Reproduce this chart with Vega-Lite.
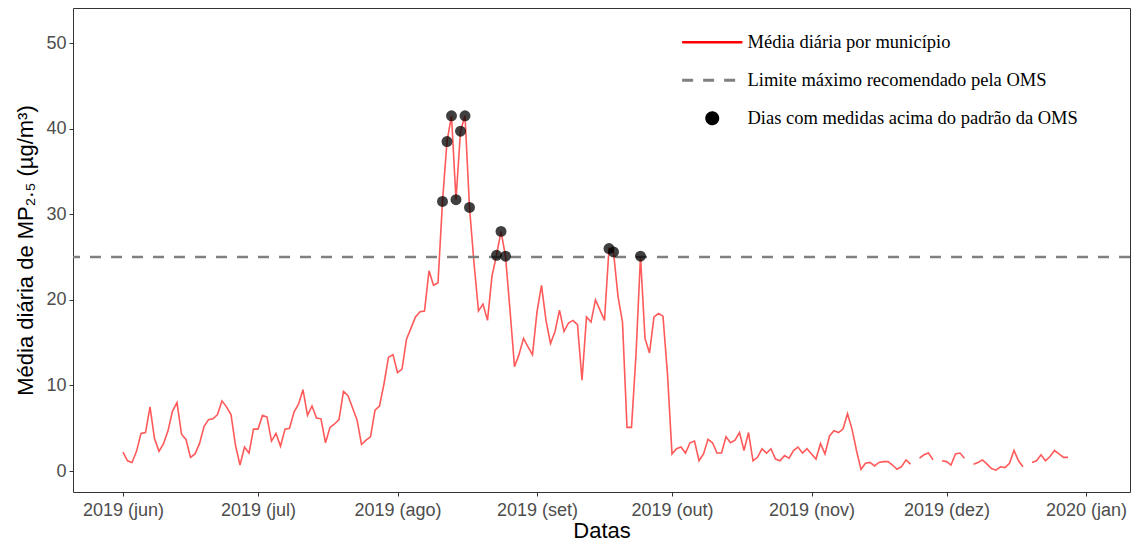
{
  "$schema": "https://vega.github.io/schema/vega-lite/v6.json",
  "width": 1057,
  "height": 484,
  "autosize": {"type": "none"},
  "padding": {"left": 73, "top": 8, "right": 6, "bottom": 51},
  "background": "white",
  "config": {
    "view": {"stroke": "#333333", "strokeWidth": 1},
    "axis": {
      "grid": false,
      "domain": false,
      "labelFont": "Liberation Sans",
      "labelFontSize": 18,
      "labelColor": "#4d4d4d",
      "tickColor": "#333333",
      "tickSize": 4,
      "titleFont": "Liberation Sans",
      "titleFontSize": 22,
      "titleFontWeight": "normal",
      "titleColor": "black"
    },
    "legend": {
      "labelFont": "Liberation Serif",
      "labelFontSize": 18.5,
      "labelColor": "black",
      "labelLimit": 500
    }
  },
  "data": {
    "values": [
      {"data": "2019-06-01", "valor": 2.2}, {"data": "2019-06-02", "valor": 1.2}, {"data": "2019-06-03", "valor": 1.0},
      {"data": "2019-06-04", "valor": 2.3}, {"data": "2019-06-05", "valor": 4.4}, {"data": "2019-06-06", "valor": 4.5},
      {"data": "2019-06-07", "valor": 7.5}, {"data": "2019-06-08", "valor": 3.8}, {"data": "2019-06-09", "valor": 2.3},
      {"data": "2019-06-10", "valor": 3.2}, {"data": "2019-06-11", "valor": 4.7}, {"data": "2019-06-12", "valor": 7.0},
      {"data": "2019-06-13", "valor": 8.0}, {"data": "2019-06-14", "valor": 4.3}, {"data": "2019-06-15", "valor": 3.7},
      {"data": "2019-06-16", "valor": 1.6}, {"data": "2019-06-17", "valor": 2.0}, {"data": "2019-06-18", "valor": 3.2},
      {"data": "2019-06-19", "valor": 5.2}, {"data": "2019-06-20", "valor": 6.0}, {"data": "2019-06-21", "valor": 6.1},
      {"data": "2019-06-22", "valor": 6.6}, {"data": "2019-06-23", "valor": 8.2}, {"data": "2019-06-24", "valor": 7.5},
      {"data": "2019-06-25", "valor": 6.6}, {"data": "2019-06-26", "valor": 3.0}, {"data": "2019-06-27", "valor": 0.7},
      {"data": "2019-06-28", "valor": 2.8}, {"data": "2019-06-29", "valor": 2.1}, {"data": "2019-06-30", "valor": 4.9},
      {"data": "2019-07-01", "valor": 4.9}, {"data": "2019-07-02", "valor": 6.5}, {"data": "2019-07-03", "valor": 6.3},
      {"data": "2019-07-04", "valor": 3.5}, {"data": "2019-07-05", "valor": 4.4}, {"data": "2019-07-06", "valor": 2.9},
      {"data": "2019-07-07", "valor": 4.9}, {"data": "2019-07-08", "valor": 5.0}, {"data": "2019-07-09", "valor": 6.9},
      {"data": "2019-07-10", "valor": 7.8}, {"data": "2019-07-11", "valor": 9.5}, {"data": "2019-07-12", "valor": 6.5},
      {"data": "2019-07-13", "valor": 7.6}, {"data": "2019-07-14", "valor": 6.2}, {"data": "2019-07-15", "valor": 6.1},
      {"data": "2019-07-16", "valor": 3.3}, {"data": "2019-07-17", "valor": 5.1}, {"data": "2019-07-18", "valor": 5.5},
      {"data": "2019-07-19", "valor": 6.0}, {"data": "2019-07-20", "valor": 9.3}, {"data": "2019-07-21", "valor": 8.8},
      {"data": "2019-07-22", "valor": 7.4}, {"data": "2019-07-23", "valor": 6.0}, {"data": "2019-07-24", "valor": 3.1},
      {"data": "2019-07-25", "valor": 3.6}, {"data": "2019-07-26", "valor": 4.0}, {"data": "2019-07-27", "valor": 7.1},
      {"data": "2019-07-28", "valor": 7.6}, {"data": "2019-07-29", "valor": 10.2}, {"data": "2019-07-30", "valor": 13.3},
      {"data": "2019-07-31", "valor": 13.6},
      {"data": "2019-08-01", "valor": 11.5}, {"data": "2019-08-02", "valor": 11.9}, {"data": "2019-08-03", "valor": 15.4},
      {"data": "2019-08-04", "valor": 16.7}, {"data": "2019-08-05", "valor": 18.0}, {"data": "2019-08-06", "valor": 18.6},
      {"data": "2019-08-07", "valor": 18.7}, {"data": "2019-08-08", "valor": 23.4}, {"data": "2019-08-09", "valor": 21.7},
      {"data": "2019-08-10", "valor": 22.0}, {"data": "2019-08-11", "valor": 31.5}, {"data": "2019-08-12", "valor": 38.5},
      {"data": "2019-08-13", "valor": 41.5}, {"data": "2019-08-14", "valor": 31.7}, {"data": "2019-08-15", "valor": 39.7},
      {"data": "2019-08-16", "valor": 41.5}, {"data": "2019-08-17", "valor": 30.8}, {"data": "2019-08-18", "valor": 24.3},
      {"data": "2019-08-19", "valor": 18.7}, {"data": "2019-08-20", "valor": 19.5}, {"data": "2019-08-21", "valor": 17.6},
      {"data": "2019-08-22", "valor": 22.8}, {"data": "2019-08-23", "valor": 25.2}, {"data": "2019-08-24", "valor": 28.0},
      {"data": "2019-08-25", "valor": 25.1}, {"data": "2019-08-26", "valor": 18.8}, {"data": "2019-08-27", "valor": 12.2},
      {"data": "2019-08-28", "valor": 13.6}, {"data": "2019-08-29", "valor": 15.5}, {"data": "2019-08-30", "valor": 14.5},
      {"data": "2019-08-31", "valor": 13.6},
      {"data": "2019-09-01", "valor": 18.6}, {"data": "2019-09-02", "valor": 21.7}, {"data": "2019-09-03", "valor": 17.6},
      {"data": "2019-09-04", "valor": 14.9}, {"data": "2019-09-05", "valor": 16.3}, {"data": "2019-09-06", "valor": 18.8},
      {"data": "2019-09-07", "valor": 16.3}, {"data": "2019-09-08", "valor": 17.3}, {"data": "2019-09-09", "valor": 17.6},
      {"data": "2019-09-10", "valor": 17.1}, {"data": "2019-09-11", "valor": 10.6}, {"data": "2019-09-12", "valor": 18.0},
      {"data": "2019-09-13", "valor": 17.4}, {"data": "2019-09-14", "valor": 20.0}, {"data": "2019-09-15", "valor": 18.8},
      {"data": "2019-09-16", "valor": 17.6}, {"data": "2019-09-17", "valor": 26.0}, {"data": "2019-09-18", "valor": 25.6},
      {"data": "2019-09-19", "valor": 20.4}, {"data": "2019-09-20", "valor": 17.4}, {"data": "2019-09-21", "valor": 5.1},
      {"data": "2019-09-22", "valor": 5.1}, {"data": "2019-09-23", "valor": 13.6}, {"data": "2019-09-24", "valor": 25.1},
      {"data": "2019-09-25", "valor": 15.5}, {"data": "2019-09-26", "valor": 13.8}, {"data": "2019-09-27", "valor": 18.0},
      {"data": "2019-09-28", "valor": 18.4}, {"data": "2019-09-29", "valor": 18.1}, {"data": "2019-09-30", "valor": 11.3},
      {"data": "2019-10-01", "valor": 2.0}, {"data": "2019-10-02", "valor": 2.6}, {"data": "2019-10-03", "valor": 2.8},
      {"data": "2019-10-04", "valor": 2.1}, {"data": "2019-10-05", "valor": 3.3}, {"data": "2019-10-06", "valor": 3.5},
      {"data": "2019-10-07", "valor": 1.2}, {"data": "2019-10-08", "valor": 2.0}, {"data": "2019-10-09", "valor": 3.7},
      {"data": "2019-10-10", "valor": 3.3}, {"data": "2019-10-11", "valor": 2.1}, {"data": "2019-10-12", "valor": 2.1},
      {"data": "2019-10-13", "valor": 4.0}, {"data": "2019-10-14", "valor": 3.3}, {"data": "2019-10-15", "valor": 3.6},
      {"data": "2019-10-16", "valor": 4.5}, {"data": "2019-10-17", "valor": 2.4}, {"data": "2019-10-18", "valor": 4.5},
      {"data": "2019-10-19", "valor": 1.2}, {"data": "2019-10-20", "valor": 1.6}, {"data": "2019-10-21", "valor": 2.6},
      {"data": "2019-10-22", "valor": 2.1}, {"data": "2019-10-23", "valor": 2.6}, {"data": "2019-10-24", "valor": 1.4},
      {"data": "2019-10-25", "valor": 1.2}, {"data": "2019-10-26", "valor": 1.8}, {"data": "2019-10-27", "valor": 1.5},
      {"data": "2019-10-28", "valor": 2.4}, {"data": "2019-10-29", "valor": 2.8}, {"data": "2019-10-30", "valor": 2.1},
      {"data": "2019-10-31", "valor": 2.6},
      {"data": "2019-11-01", "valor": 2.0}, {"data": "2019-11-02", "valor": 1.4}, {"data": "2019-11-03", "valor": 3.2},
      {"data": "2019-11-04", "valor": 2.0}, {"data": "2019-11-05", "valor": 4.1}, {"data": "2019-11-06", "valor": 4.7},
      {"data": "2019-11-07", "valor": 4.5}, {"data": "2019-11-08", "valor": 4.9}, {"data": "2019-11-09", "valor": 6.7},
      {"data": "2019-11-10", "valor": 4.9}, {"data": "2019-11-11", "valor": 2.4}, {"data": "2019-11-12", "valor": 0.2},
      {"data": "2019-11-13", "valor": 0.9}, {"data": "2019-11-14", "valor": 1.0}, {"data": "2019-11-15", "valor": 0.6},
      {"data": "2019-11-16", "valor": 1.0}, {"data": "2019-11-17", "valor": 1.1}, {"data": "2019-11-18", "valor": 1.1},
      {"data": "2019-11-19", "valor": 0.7}, {"data": "2019-11-20", "valor": 0.2}, {"data": "2019-11-21", "valor": 0.5},
      {"data": "2019-11-22", "valor": 1.3}, {"data": "2019-11-23", "valor": 0.8}, {"data": "2019-11-24", "valor": null},
      {"data": "2019-11-25", "valor": 1.5}, {"data": "2019-11-26", "valor": 1.9}, {"data": "2019-11-27", "valor": 2.1},
      {"data": "2019-11-28", "valor": 1.3}, {"data": "2019-11-29", "valor": null}, {"data": "2019-11-30", "valor": 1.2},
      {"data": "2019-12-01", "valor": 1.1}, {"data": "2019-12-02", "valor": 0.7}, {"data": "2019-12-03", "valor": 2.0},
      {"data": "2019-12-04", "valor": 2.1}, {"data": "2019-12-05", "valor": 1.5}, {"data": "2019-12-06", "valor": null},
      {"data": "2019-12-07", "valor": 0.8}, {"data": "2019-12-08", "valor": 1.0}, {"data": "2019-12-09", "valor": 1.3},
      {"data": "2019-12-10", "valor": 0.8}, {"data": "2019-12-11", "valor": 0.3}, {"data": "2019-12-12", "valor": 0.1},
      {"data": "2019-12-13", "valor": 0.5}, {"data": "2019-12-14", "valor": 0.4}, {"data": "2019-12-15", "valor": 0.9},
      {"data": "2019-12-16", "valor": 2.4}, {"data": "2019-12-17", "valor": 1.2}, {"data": "2019-12-18", "valor": 0.5},
      {"data": "2019-12-19", "valor": null}, {"data": "2019-12-20", "valor": 1.0}, {"data": "2019-12-21", "valor": 1.2},
      {"data": "2019-12-22", "valor": 1.9}, {"data": "2019-12-23", "valor": 1.2}, {"data": "2019-12-24", "valor": 1.7},
      {"data": "2019-12-25", "valor": 2.4}, {"data": "2019-12-26", "valor": 2.0}, {"data": "2019-12-27", "valor": 1.6},
      {"data": "2019-12-28", "valor": 1.6}
    ]
  },
  "encoding": {
    "x": {
      "field": "data",
      "type": "temporal",
      "title": "Datas",
      "scale": {
        "type": "utc",
        "domain": [
          {"year": 2019, "month": 5, "date": 20, "hours": 21, "minutes": 20, "utc": true},
          {"year": 2020, "month": 1, "date": 10, "hours": 18, "minutes": 40, "utc": true}
        ]
      },
      "axis": {
        "values": [
          {"year": 2019, "month": 6, "date": 1, "utc": true},
          {"year": 2019, "month": 7, "date": 1, "utc": true},
          {"year": 2019, "month": 8, "date": 1, "utc": true},
          {"year": 2019, "month": 9, "date": 1, "utc": true},
          {"year": 2019, "month": 10, "date": 1, "utc": true},
          {"year": 2019, "month": 11, "date": 1, "utc": true},
          {"year": 2019, "month": 12, "date": 1, "utc": true},
          {"year": 2020, "month": 1, "date": 1, "utc": true}
        ],
        "labelExpr": "utcyear(datum.value) + ' (' + ['jan','fev','mar','abr','mai','jun','jul','ago','set','out','nov','dez'][utcmonth(datum.value)] + ')'",
        "labelPadding": 5,
        "titlePadding": 1
      }
    },
    "y": {
      "field": "valor",
      "type": "quantitative",
      "title": "Média diária de  MP₂.₅ (µg/m³)",
      "scale": {"domain": [-2.45, 54.1], "nice": false, "zero": false},
      "axis": {"values": [0, 10, 20, 30, 40, 50], "labelPadding": 3, "titlePadding": 8}
    },
    "color": {
      "type": "nominal",
      "scale": {
        "domain": [
          "Média diária por município",
          "Limite máximo recomendado pela OMS",
          "Dias com medidas acima do padrão da OMS"
        ],
        "range": ["#ff0000", "#808080", "#000000"]
      },
      "legend": {
        "title": null,
        "orient": "none",
        "legendX": 630,
        "legendY": 25,
        "gridAlign": "all",
        "rowPadding": 14,
        "labelOffset": 26,
        "symbolSize": 120,
        "encode": {
          "symbols": {
            "update": {
              "shape": {"signal": "datum.value === 'Dias com medidas acima do padrão da OMS' ? 'circle' : 'M-5.5,0H5.5'"},
              "size": {"value": 120},
              "fill": {"signal": "datum.value === 'Dias com medidas acima do padrão da OMS' ? '#000000' : 'transparent'"},
              "stroke": {"signal": "datum.value === 'Dias com medidas acima do padrão da OMS' ? 'transparent' : (datum.value === 'Média diária por município' ? '#ff0000' : '#808080')"},
              "strokeWidth": {"signal": "datum.value === 'Média diária por município' ? 2.5 : 3"},
              "strokeDash": {"signal": "datum.value === 'Limite máximo recomendado pela OMS' ? [11, 10] : [1, 0]"},
              "opacity": {"value": 1}
            }
          }
        }
      }
    }
  },
  "layer": [
    {
      "mark": {"type": "line", "strokeWidth": 1.6, "opacity": 0.65, "invalid": "break-paths-show-domains"},
      "encoding": {"color": {"datum": "Média diária por município", "type": "nominal"}}
    },
    {
      "data": {"values": [{"limite": 25}]},
      "mark": {"type": "rule", "strokeWidth": 2.6, "strokeDash": [11, 10]},
      "encoding": {
        "x": null,
        "y": {"field": "limite", "type": "quantitative"},
        "color": {"datum": "Limite máximo recomendado pela OMS", "type": "nominal"}
      }
    },
    {
      "transform": [{"filter": "datum.valor >= 25"}],
      "mark": {"type": "point", "filled": true, "size": 120, "opacity": 0.75},
      "encoding": {"color": {"datum": "Dias com medidas acima do padrão da OMS", "type": "nominal"}}
    }
  ]
}
